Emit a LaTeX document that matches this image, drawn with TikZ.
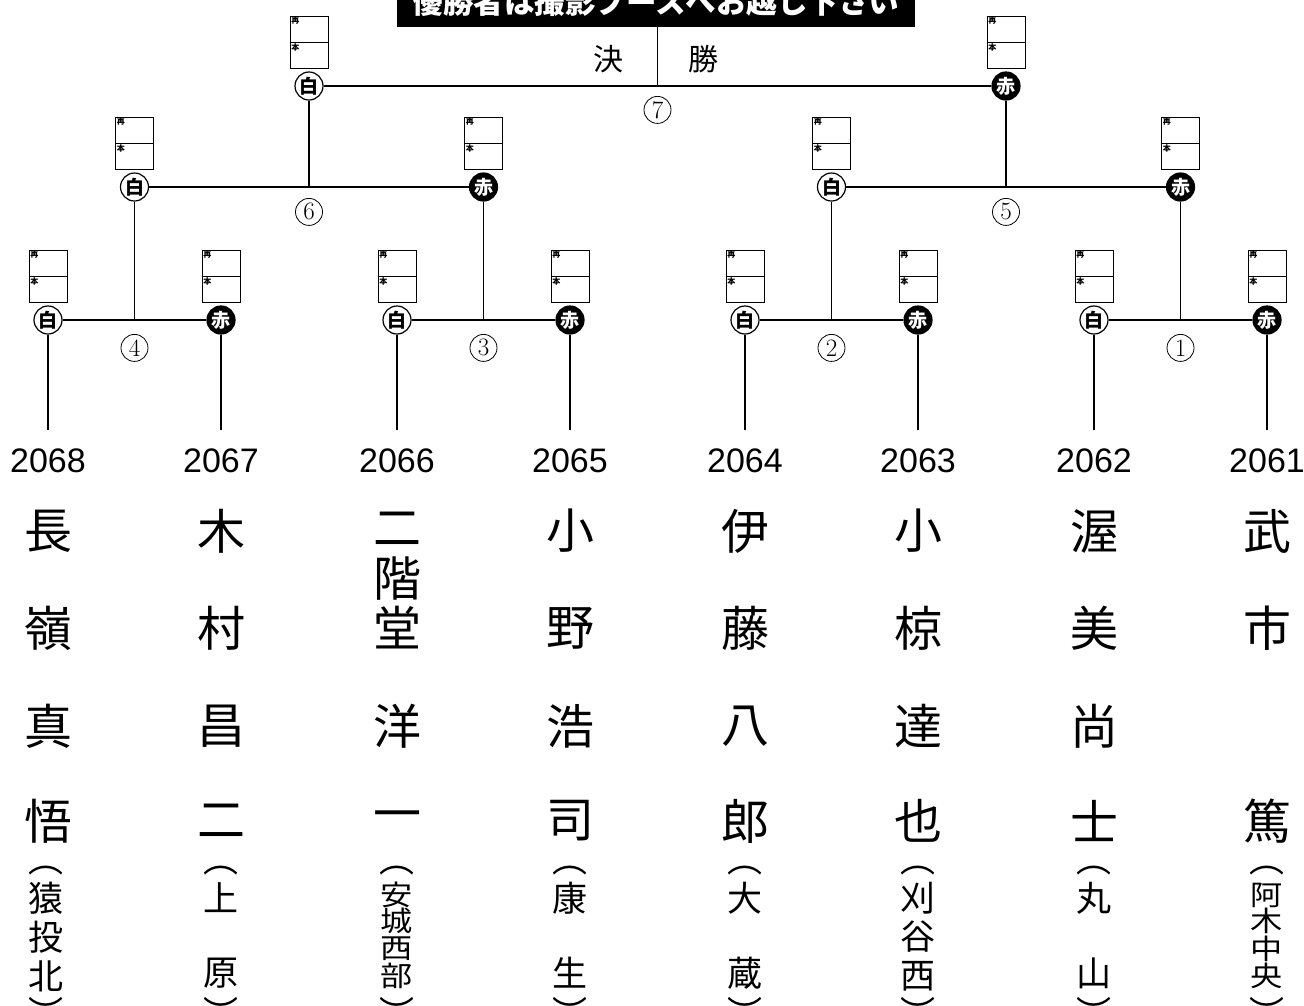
\documentclass[tikz,border=0pt]{standalone}
\usepackage{fontspec}
\usepackage{graphicx}
\newfontfamily\jpfont{Noto Sans CJK JP}
\newfontfamily\numfont{Liberation Sans}
\usetikzlibrary{calc,positioning}
\tikzset{%
	shiro/.style   = {draw, circle, fill=white, minimum size=28pt, inner sep=0pt, line width=1.2pt, font=\jpfont\bfseries\fontsize{19}{19}\selectfont},
	aka/.style     = {shiro, fill=black, text=white},
	card/.style    = {draw, rectangle, minimum width=38pt, minimum height=52pt, inner sep=0pt, line width=0.8pt},
	cardlbl/.style = {inner sep=1.5pt, font=\jpfont\bfseries\fontsize{8}{8}\selectfont},
	matchno/.style = {draw, circle, minimum size=27pt, inner sep=0pt, line width=0.8pt, font=\fontsize{25}{25}\selectfont},
	entry/.style   = {inner sep=0pt, font=\numfont\fontsize{34}{34}\selectfont},
	namech/.style  = {inner sep=0pt, font=\jpfont\fontsize{48}{48}\selectfont},
	school/.style  = {inner sep=0pt, font=\jpfont\fontsize{35}{35}\selectfont},
	finalch/.style = {inner sep=0pt, font=\jpfont\fontsize{30}{30}\selectfont},
	banner/.style  = {fill=black, text=white, minimum width=518pt, minimum height=50pt, inner sep=0pt, font=\jpfont\bfseries\fontsize{30.5}{30.5}\selectfont},
	wire/.style    = {line width=1.3pt},
}
% score card above a player's circle
\newcommand{\scorecard}[1]{%
	\node[card, above=3pt of #1] (#1-card) {};
	\draw[line width=1pt] (#1-card.west) -- (#1-card.east);
	\node[cardlbl, anchor=north west] (#1-sai) at (#1-card.north west) {再};
	\node[cardlbl, anchor=north west] (#1-hon) at (#1-card.west) {本};
}
% player name, one character per row
\newcommand{\player}[6]{%
	\foreach \ch/\yy [count=\r] in {#3/531,#4/628,#5/726,#6/821}
		\node[namech] (n#1-\r) at (#2,\yy) {\ch};
}
% school in vertical brackets
\newcommand{\affil}[5]{%
	\node[school] (s#1-o) at (#2,871) {︵};
	\foreach \ch/\yy [count=\k] in {#3}
		\node[school] (s#1-\k) at (#2,\yy) {\scalebox{#4}[#5]{\ch}};
	\node[school] (s#1-c) at (#2,1012) {︶};
}

\begin{document}
\begin{tikzpicture}[x=1pt, y=-1pt]
	\clip (0,0) rectangle (1304,1005);
	\node[banner, anchor=south] (banner) at (656,27) {優勝者は撮影ブースへお越し下さい};
	
	% first round
	\foreach \x/\s/\t/\n [count=\i] in {48/shiro/白/2068, 221/aka/赤/2067, 397/shiro/白/2066, 570/aka/赤/2065, 745/shiro/白/2064, 918/aka/赤/2063, 1094/shiro/白/2062, 1267/aka/赤/2061}
	{
		\node[\s] (p\i) at (\x,320) {\t};
		\draw[wire] (p\i) -- (p\i |- 0,430);
		\node[entry] (e\i) at (\x,461) {\n};
	}
	\coordinate (j4) at ($(p1)!.5!(p2)$);
	\coordinate (j3) at ($(p3)!.5!(p4)$);
	\coordinate (j2) at ($(p5)!.5!(p6)$);
	\coordinate (j1) at ($(p7)!.5!(p8)$);
	\draw[wire] (p1) -- (p2);
	\draw[wire] (p3) -- (p4);
	\draw[wire] (p5) -- (p6);
	\draw[wire] (p7) -- (p8);
	\node[matchno, below=14pt of j4] (m4) {4};
	\node[matchno, below=14pt of j3] (m3) {3};
	\node[matchno, below=14pt of j2] (m2) {2};
	\node[matchno, below=14pt of j1] (m1) {1};
	
	% second round
	\node[shiro] (q1) at (j4 |- 0,187) {白};
	\node[aka]   (q2) at (j3 |- 0,187) {赤};
	\node[shiro] (q3) at (j2 |- 0,187) {白};
	\node[aka]   (q4) at (j1 |- 0,187) {赤};
	\draw[wire] (j4) -- (q1);
	\draw[wire] (j3) -- (q2);
	\draw[wire] (j2) -- (q3);
	\draw[wire] (j1) -- (q4);
	\coordinate (j6) at ($(q1)!.5!(q2)$);
	\coordinate (j5) at ($(q3)!.5!(q4)$);
	\draw[wire] (q1) -- (q2);
	\draw[wire] (q3) -- (q4);
	\node[matchno, below=11pt of j6] (m6) {6};
	\node[matchno, below=11pt of j5] (m5) {5};
	
	% final
	\node[shiro] (f1) at (j6 |- 0,86) {白};
	\node[aka]   (f2) at (j5 |- 0,86) {赤};
	\draw[wire] (j6) -- (f1);
	\draw[wire] (j5) -- (f2);
	\draw[wire] (f1) -- (f2);
	\coordinate (j7) at ($(f1)!.5!(f2)$);
	\draw[wire] (j7) -- (j7 |- banner.south);
	\node[matchno, below=10pt of j7] (m7) {7};
	\node[finalch] (ketsu) at ($(j7)+(-49,-27)$) {決};
	\node[finalch] (shou)  at ($(j7)+(46,-27)$) {勝};
	
	\foreach \n in {p1,p2,p3,p4,p5,p6,p7,p8,q1,q2,q3,q4,f1,f2}
		\scorecard{\n};
	
	% names
	\player{1}{48}{長}{嶺}{真}{悟}
	\player{2}{221}{木}{村}{昌}{二}
	\player{3}{397}{}{堂}{洋}{一}
	\node[namech] (n3-a) at (397,529) {二};
	\node[namech] (n3-b) at (397,579) {階};
	\player{4}{570}{小}{野}{浩}{司}
	\player{5}{745}{伊}{藤}{八}{郎}
	\player{6}{918}{小}{椋}{達}{也}
	\player{7}{1094}{渥}{美}{尚}{士}
	\player{8}{1267}{武}{市}{}{篤}
	
	% schools
	\affil{1}{46}{猿/898,投/937,北/976}{1}{1}
	\affil{2}{221}{上/898,原/973}{1}{1}
	\affil{3}{397}{安/895,城/921,西/949,部/976}{0.92}{0.8}
	\affil{4}{570}{康/898,生/973}{1}{1}
	\affil{5}{745}{大/898,蔵/973}{1}{1}
	\affil{6}{918}{刈/898,谷/937,西/976}{1}{1}
	\affil{7}{1094}{丸/898,山/973}{1}{1}
	\affil{8}{1267}{阿/895,木/921,中/949,央/976}{0.92}{0.8}
\end{tikzpicture}
\end{document}
